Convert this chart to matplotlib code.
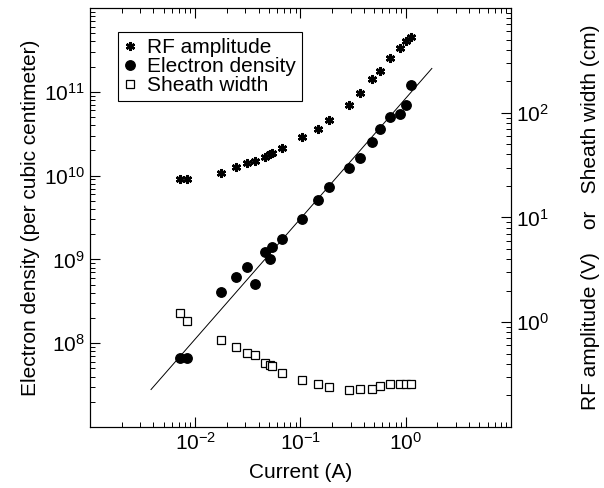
import matplotlib
matplotlib.use('Agg')
import matplotlib.pyplot as plt
from matplotlib.ticker import LogLocator, NullFormatter

plt.rcParams['font.family'] = ['Liberation Sans', 'DejaVu Sans']
plt.rcParams['mathtext.fontset'] = 'custom'
plt.rcParams['mathtext.rm'] = 'Liberation Sans'
plt.rcParams['mathtext.it'] = 'Liberation Sans'
plt.rcParams['mathtext.default'] = 'regular'

# discharge current (A), shared by the three series
current = [0.00718, 0.00838, 0.0177, 0.0242, 0.0308, 0.0367, 0.0457, 0.0510, 0.0533,
           0.0665, 0.103, 0.147, 0.187, 0.291, 0.371, 0.483, 0.564, 0.703, 0.877,
           1.0, 1.116]
# electron density (per cm^3), left axis
density = [6.6e7, 6.6e7, 4.1e8, 6.2e8, 8.2e8, 5.15e8, 1.23e9, 1.02e9, 1.42e9,
           1.76e9, 3.0e9, 5.1e9, 7.3e9, 1.22e10, 1.61e10, 2.49e10, 3.55e10, 5.07e10,
           5.5e10, 7.0e10, 1.21e11]
# RF amplitude (V), right axis
rf_amp = [23.2, 23.2, 26.5, 30.3, 33.0, 34.5, 37.7, 40.3, 41.2,
          46.1, 58.8, 70.2, 85.7, 119, 156, 208, 253, 331, 412, 482, 526]
# sheath width (cm), right axis
sheath = [1.22, 1.02, 0.671, 0.575, 0.504, 0.482, 0.412, 0.394, 0.386,
          0.331, 0.283, 0.259, 0.242, 0.227, 0.232, 0.232, 0.248, 0.259, 0.259,
          0.259, 0.259]
# power-law fit to the electron density (end points)
fit_x = [0.0038, 1.77]
fit_y = [2.8e7, 1.9e11]

fig = plt.figure(figsize=(6.04, 4.88), dpi=100)
ax = fig.add_axes([90 / 604, 61 / 488, 421 / 604, 419 / 488])
ax2 = ax.twinx()

ax.plot(fit_x, fit_y, color='black', lw=0.7)
ax.plot(current, density, 'o', color='black', ms=6.8, label='Electron density')
ax2.plot(current, rf_amp, ls='none', marker=(6, 2, 0), color='black', ms=6.5, mew=1.8,
         label='RF amplitude')
ax2.plot(current, sheath, 's', mfc='white', mec='black', ms=5.8, mew=0.9,
         label='Sheath width')

for a in (ax, ax2):
    a.set_xscale('log')
    a.set_yscale('log')
ax.set_xlim(1e-3, 1e1)
ax.set_ylim(1e7, 1e12)
ax2.set_ylim(1e-1, 1e3)

ax.set_xticks([1e-2, 1e-1, 1e0])
ax.xaxis.set_minor_locator(LogLocator(base=10, subs=range(2, 10), numticks=10))
ax.xaxis.set_minor_formatter(NullFormatter())
ax.set_yticks([1e8, 1e9, 1e10, 1e11])
ax.yaxis.set_minor_locator(LogLocator(base=10, subs=range(2, 10), numticks=10))
ax.yaxis.set_minor_formatter(NullFormatter())
ax2.set_yticks([1e0, 1e1, 1e2])
ax2.yaxis.set_minor_locator(LogLocator(base=10, subs=range(2, 10), numticks=10))
ax2.yaxis.set_minor_formatter(NullFormatter())

ax.tick_params(which='both', direction='in', top=True, right=False, labelsize=15)
ax.tick_params(which='major', length=7, width=0.8)
ax.tick_params(which='minor', length=3.5, width=0.7)
ax2.tick_params(which='both', direction='in', labelsize=15)
ax2.tick_params(which='major', length=7, width=0.8)
ax2.tick_params(which='minor', length=3.5, width=0.7)

ax.set_xlabel('Current (A)', fontsize=15, labelpad=7)
ax.set_ylabel('Electron density (per cubic centimeter)', fontsize=15, labelpad=3)
ax2.set_ylabel('RF amplitude (V)    or   Sheath width (cm)', fontsize=15, labelpad=23)

h1, l1 = ax.get_legend_handles_labels()
h2, l2 = ax2.get_legend_handles_labels()
handles = [h2[0], h1[0], h2[1]]
labels = [l2[0], l1[0], l2[1]]
leg = ax2.legend(handles, labels, loc='upper left', bbox_to_anchor=(0.066, 0.943),
                 borderaxespad=0, fontsize=15, numpoints=1, handlelength=0.6,
                 handletextpad=0.5, borderpad=0.3, labelspacing=0.0, fancybox=False,
                 framealpha=1, edgecolor='black')
leg.get_frame().set_linewidth(0.8)

fig.savefig('out.png', dpi=100)
